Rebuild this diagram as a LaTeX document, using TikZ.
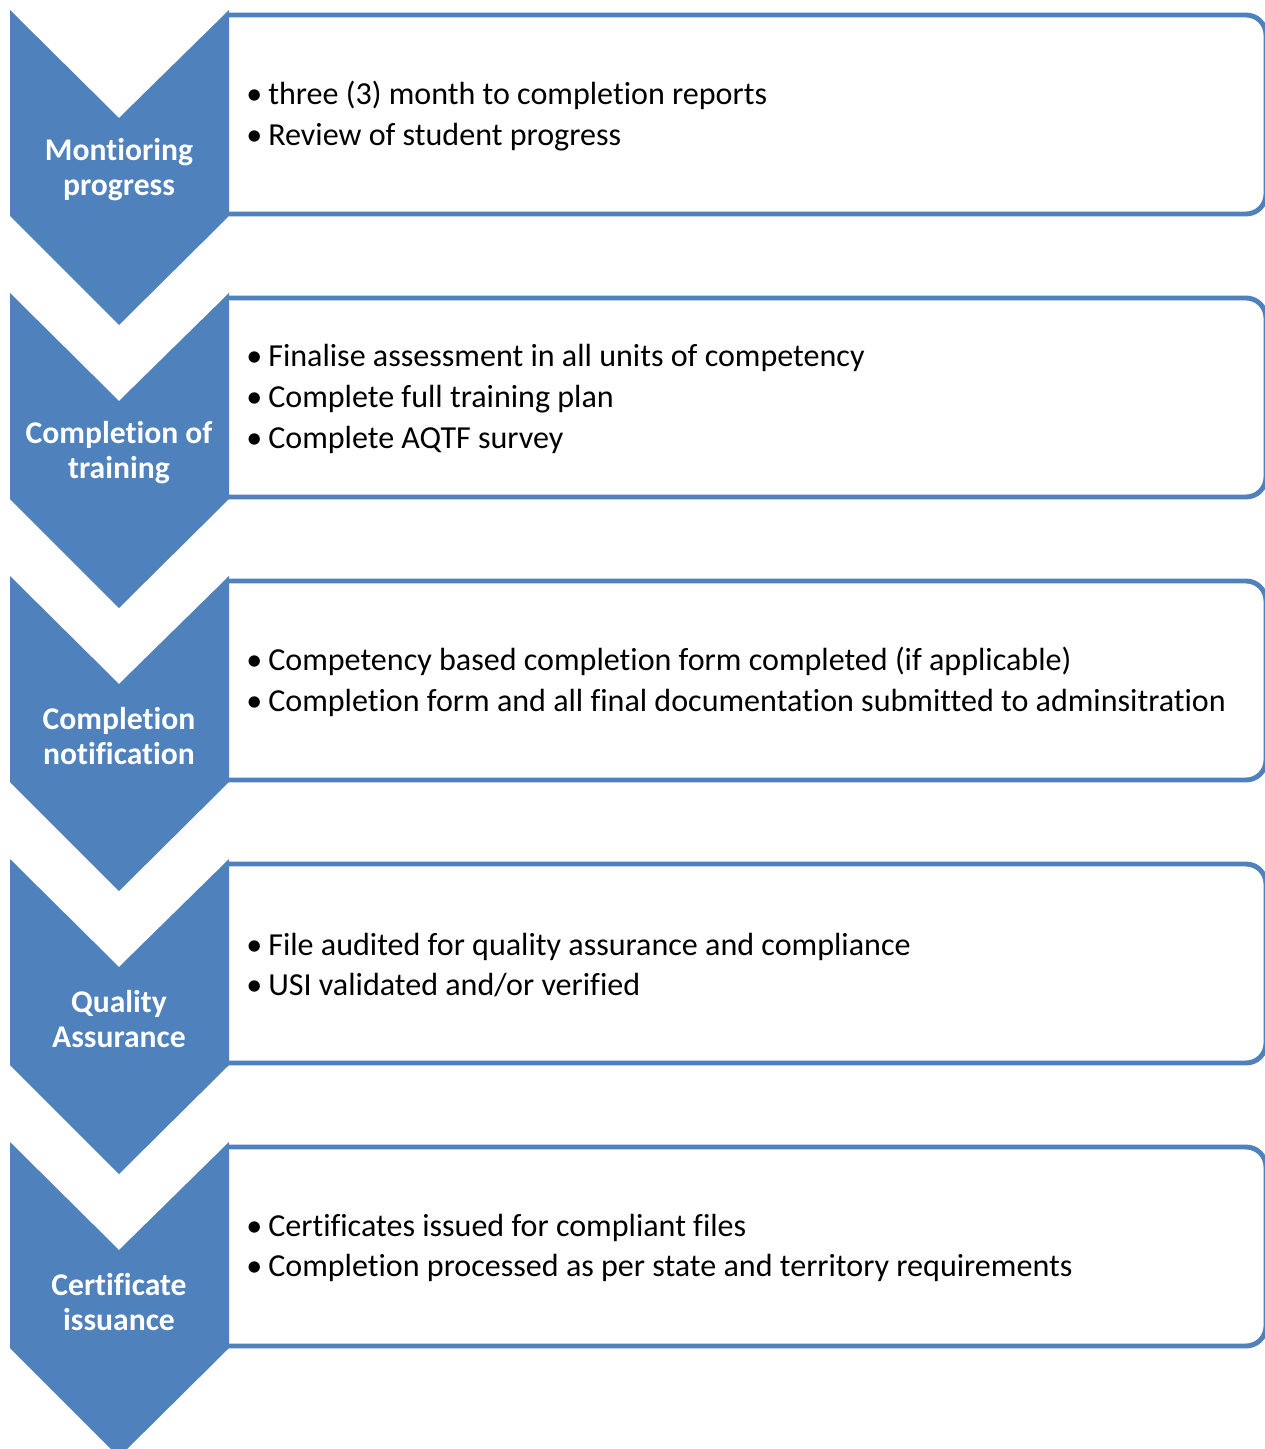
\documentclass[tikz,border=0pt]{standalone}
\usepackage{fontspec}
\setmainfont{Carlito}[RawFeature={-liga;-clig;-calt;-dlig;-rlig;-ccmp}]
\usetikzlibrary{positioning}
\definecolor{stepblue}{RGB}{79,129,189}
\newcommand{\itm}{\makebox[12.5pt][l]{•}}

\begin{document}
\begin{tikzpicture}
[x=0.02cm,y=-0.02cm,
  chevron/.style={fill=stepblue},
  itembox/.style={draw=stepblue,line width=2.8pt,rounded corners=0.4cm},
  steplabel/.style={text=white,font=\fontsize{18}{20}\selectfont\bfseries,align=center},
  itemtext/.style={anchor=west,inner sep=0pt,align=left,font=\fontsize{18.25}{23.2}\selectfont}]

  \useasboundingbox (0,0) rectangle (1264,1449);

  % boxes first, chevrons on top
  \foreach \d in {0,283,566,849,1132}{
    \fill[white] (229,15+\d) rectangle (1266,214+\d);
    \draw[itembox] (229,15+\d) -- (1266,15+\d) -- (1266,214+\d) -- (229,214+\d);
    \fill[chevron] (10,10+\d) -- (119,118+\d) -- (229,10+\d) -- (229,216+\d)
      -- (119,325+\d) -- (10,216+\d) -- cycle;
  }

  \node[steplabel] (monitoring) at 	(119,170) 	{Montioring\\progress};
  \node[steplabel] (training) at 	(119,453) 	{Completion of\\training};
  \node[steplabel] (notification) at 	(119,736) 	{Completion\\notification};
  \node[steplabel] (quality) at 	(119,1019) 	{Quality\\Assurance};
  \node[steplabel] (certificate) at 	(119,1302) 	{Certificate\\issuance};

  \node[itemtext] (monitoringitems) at 	(246,116) 	{\itm three (3) month to completion reports\\
    \itm Review of student progress};
  \node[itemtext] (trainingitems) at 	(246,399) 	{\itm Finalise assessment in all units of competency\\
    \itm Complete full training plan\\
    \itm Complete AQTF survey};
  \node[itemtext] (notificationitems) at 	(246,682) 	{\itm Competency based completion form completed (if applicable)\\
    \itm Completion form and all final documentation submitted to adminsitration};
  \node[itemtext] (qualityitems) at 	(246,965) 	{\itm File audited for quality assurance and compliance\\
    \itm USI validated and/or verified};
  \node[itemtext] (certificateitems) at 	(246,1248) 	{\itm Certificates issued for compliant files\\
    \itm Completion processed as per state and territory requirements};

\end{tikzpicture}
\end{document}
